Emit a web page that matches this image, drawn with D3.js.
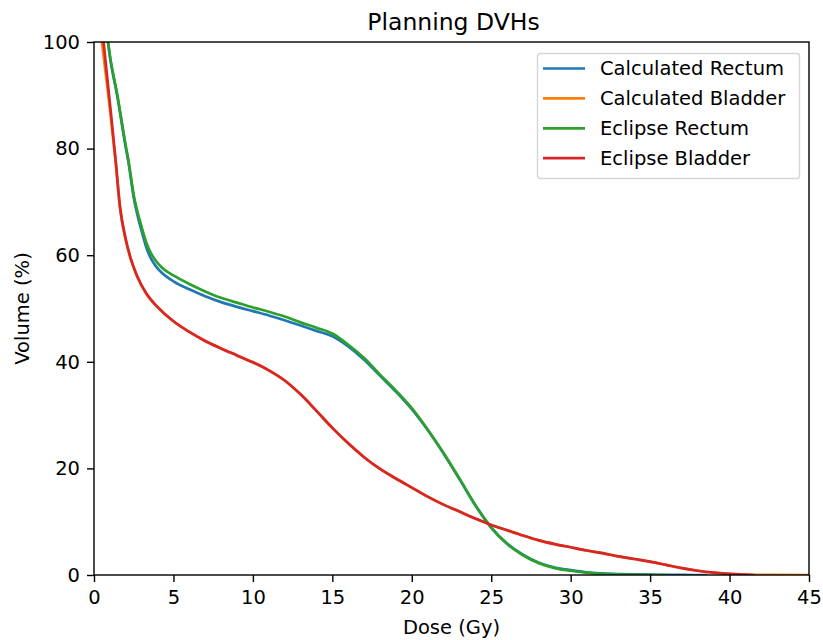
<!DOCTYPE html>
<html>
<head>
<meta charset="utf-8">
<script src="https://cdn.jsdelivr.net/npm/d3@7"></script>
<style>
  html, body { margin: 0; padding: 0; background: #fff; }
  svg text { font-family: "DejaVu Sans", sans-serif; fill: #000; }
</style>
</head>
<body>
<svg id="chart" width="823" height="640"></svg>
<script>
// ---- data ----
const seriesNames = ["Calculated Rectum", "Calculated Bladder", "Eclipse Rectum", "Eclipse Bladder"];
const seriesColors = ["#1f77b4", "#ff7f0e", "#2ca02c", "#d62728"];

const calcRectumDose = [0.88, 1.0, 1.47, 2.0, 2.16, 2.5, 3.0, 3.3, 3.6, 3.9, 4.3, 5, 6, 7, 8, 9, 10, 11, 12, 13, 14, 15, 16, 17, 18, 19, 20, 21, 22, 23, 24, 25, 26, 27, 28, 29, 30, 31, 32, 33, 34, 35, 36, 37, 38.5];
const calcRectumVol  = [100, 97.3, 89.8, 80.2, 77.6, 70.8, 64.5, 61.4, 59.3, 57.9, 56.6, 55.1, 53.6, 52.3, 51.2, 50.3, 49.5, 48.7, 47.8, 46.8, 45.8, 44.8, 42.9, 40.4, 37.4, 34.4, 31.1, 27.2, 22.8, 18.0, 13.1, 8.9, 5.9, 3.8, 2.3, 1.4, 0.9, 0.5, 0.3, 0.18, 0.1, 0.06, 0.03, 0.01, 0];

const calcBladderDose = [0.5, 1.0, 1.36, 1.64, 2.0, 2.3, 2.7, 3.3, 4, 5, 6, 7, 8, 9, 10, 11, 12, 13, 14, 15, 16, 17, 18, 19, 20, 21, 22, 23, 24, 25, 26, 27, 28, 29, 30, 31, 32, 33, 34, 35, 36, 37, 38, 39, 40, 41, 42, 45];
const calcBladderVol  = [100, 87.5, 77.5, 68.8, 62.8, 59.4, 56.1, 52.7, 50.2, 47.6, 45.6, 43.9, 42.5, 41.2, 39.9, 38.4, 36.5, 33.9, 30.8, 27.6, 24.7, 22.1, 19.9, 18.1, 16.4, 14.7, 13.2, 11.9, 10.6, 9.4, 8.4, 7.4, 6.5, 5.8, 5.2, 4.6, 4.1, 3.5, 3.0, 2.5, 1.9, 1.3, 0.8, 0.45, 0.2, 0.07, 0.01, 0];

const eclRectumDose = [0.88, 1.0, 1.47, 2.0, 2.16, 2.5, 3.0, 3.3, 3.6, 3.9, 4.3, 5, 6, 7, 8, 9, 10, 11, 12, 13, 14, 15, 16, 17, 18, 19, 20, 21, 22, 23, 24, 25, 26, 27, 28, 29, 30, 31, 32, 33, 34, 35, 36];
const eclRectumVol  = [100, 97.5, 90, 80.5, 77.9, 71.3, 65.3, 62.3, 60.3, 58.9, 57.6, 56.2, 54.6, 53.2, 52.0, 51.1, 50.2, 49.4, 48.5, 47.4, 46.4, 45.3, 43.2, 40.7, 37.6, 34.6, 31.3, 27.3, 22.9, 18.1, 13.1, 8.9, 5.8, 3.7, 2.2, 1.3, 0.8, 0.45, 0.22, 0.1, 0.04, 0.01, 0];

const eclBladderDose = [0.6, 1.0, 1.36, 1.64, 2.0, 2.3, 2.7, 3.3, 4, 5, 6, 7, 8, 9, 10, 11, 12, 13, 14, 15, 16, 17, 18, 19, 20, 21, 22, 23, 24, 25, 26, 27, 28, 29, 30, 31, 32, 33, 34, 35, 36, 37, 38, 39, 40, 41, 41.5];
const eclBladderVol  = [100, 88.5, 77.9, 69, 63, 59.5, 56.2, 52.8, 50.3, 47.6, 45.6, 43.9, 42.5, 41.2, 39.9, 38.4, 36.5, 33.9, 30.8, 27.6, 24.7, 22.1, 19.9, 18.1, 16.4, 14.7, 13.2, 11.9, 10.6, 9.4, 8.4, 7.4, 6.5, 5.8, 5.2, 4.6, 4.1, 3.5, 3.0, 2.5, 1.9, 1.3, 0.8, 0.45, 0.2, 0.07, 0];

const xTicks = [0, 5, 10, 15, 20, 25, 30, 35, 40, 45];
const yTicks = [0, 20, 40, 60, 80, 100];

const doseArrays = [calcRectumDose, calcBladderDose, eclRectumDose, eclBladderDose];
const volArrays  = [calcRectumVol, calcBladderVol, eclRectumVol, eclBladderVol];

// ---- layout ----
const svg = d3.select("#chart");
const L = 94, R = 809, T = 42, B = 575;

const x = d3.scaleLinear().domain([0, 45]).range([L, R]);
const y = d3.scaleLinear().domain([0, 100]).range([B, T]);

svg.append("defs").append("clipPath").attr("id", "clip")
  .append("rect").attr("x", L).attr("y", T).attr("width", R - L).attr("height", B - T);

const line = d3.line()
  .x(d => x(d[0])).y(d => y(d[1]))
  .curve(d3.curveMonotoneX);

const plot = svg.append("g").attr("clip-path", "url(#clip)");
seriesNames.forEach((name, i) => {
  const pts = doseArrays[i].map((d, j) => [d, volArrays[i][j]]);
  plot.append("path")
    .datum(pts)
    .attr("d", line)
    .attr("fill", "none")
    .attr("stroke", seriesColors[i])
    .attr("stroke-width", 2.7)
    .attr("stroke-linejoin", "round")
    .attr("stroke-linecap", "square");
});

// axes
const xAxis = d3.axisBottom(x).tickValues(xTicks).tickSize(7).tickPadding(7).tickFormat(d3.format("d"));
const yAxis = d3.axisLeft(y).tickValues(yTicks).tickSize(7).tickPadding(7).tickFormat(d3.format("d"));

const gx = svg.append("g").attr("transform", `translate(0,${B})`).call(xAxis);
const gy = svg.append("g").attr("transform", `translate(${L},0)`).call(yAxis);
[gx, gy].forEach(g => {
  g.select(".domain").remove();
  g.selectAll(".tick line").attr("stroke", "#000").attr("stroke-width", 1.4);
  g.selectAll(".tick text").attr("font-size", 19.5).attr("font-family", "DejaVu Sans, sans-serif").attr("fill", "#000");
});
gx.selectAll(".tick text").attr("dy", null).attr("y", 29);

// frame (spines)
svg.append("rect")
  .attr("x", L).attr("y", T).attr("width", R - L).attr("height", B - T)
  .attr("fill", "none").attr("stroke", "#000").attr("stroke-width", 1.4);

// title & labels
svg.append("text").attr("x", (L + R) / 2 + 2).attr("y", 30)
  .attr("text-anchor", "middle").attr("font-size", 23.5).text("Planning DVHs");
svg.append("text").attr("x", (L + R) / 2).attr("y", 634)
  .attr("text-anchor", "middle").attr("font-size", 19.5).text("Dose (Gy)");
svg.append("text").attr("transform", `translate(29,${(T + B) / 2}) rotate(-90)`)
  .attr("text-anchor", "middle").attr("font-size", 19.5).text("Volume (%)");

// legend
const lg = svg.append("g");
lg.append("rect")
  .attr("x", 537.5).attr("y", 53.5).attr("width", 262).attr("height", 125)
  .attr("rx", 3).attr("ry", 3)
  .attr("fill", "#fff").attr("fill-opacity", 0.8)
  .attr("stroke", "#d6d6d6").attr("stroke-width", 1.4);
seriesNames.forEach((name, i) => {
  const yy = 68.5 + i * 29.9;
  lg.append("line").attr("x1", 543).attr("x2", 585).attr("y1", yy).attr("y2", yy)
    .attr("stroke", seriesColors[i]).attr("stroke-width", 2.7);
  lg.append("text").attr("x", 600).attr("y", yy).attr("dy", "0.35em")
    .attr("font-size", 19.5).text(name);
});
</script>
</body>
</html>
